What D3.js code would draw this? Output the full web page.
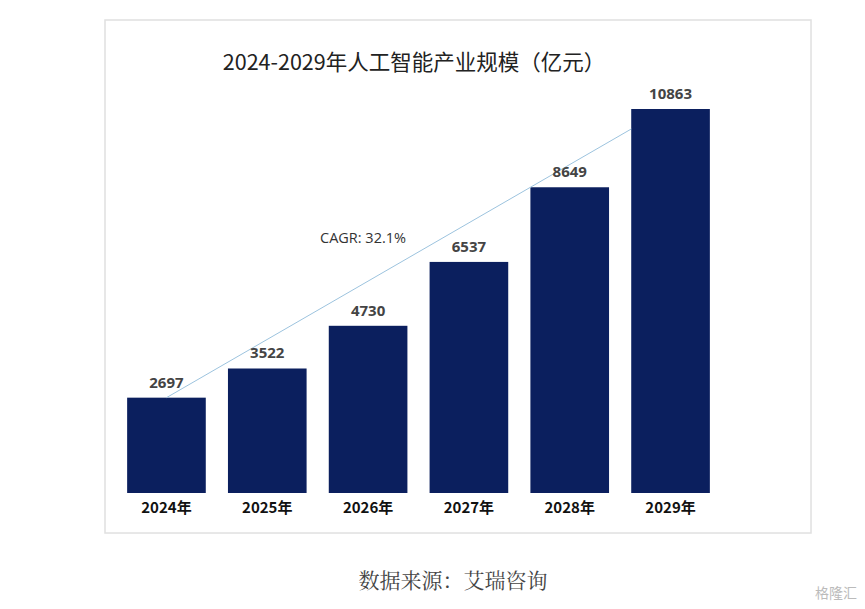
<!DOCTYPE html>
<html><head><meta charset="utf-8">
<script src="https://cdn.jsdelivr.net/npm/d3@7"></script>
<style>body{margin:0;background:#fff}</style>
</head><body><svg id="chart" width="865" height="609"></svg>
<script>
const years = ["2024年", "2025年", "2026年", "2027年", "2028年", "2029年"];
const values = [2697, 3522, 4730, 6537, 8649, 10863];
const cagrLabel = "CAGR: 32.1%";

const svg = d3.select("#chart");
const baseline = 493;

// Frame
svg.append("rect").attr("x", 105).attr("y", 20).attr("width", 706).attr("height", 513)
  .attr("fill", "#fff").attr("stroke", "#e0e0e0").attr("stroke-width", 1.5);

svg.append("text").attr("x", 414).attr("y", 70).attr("text-anchor", "middle")
  .style("font-family", "'Noto Sans CJK SC'").style("font-size", "21.5px").attr("fill", "#222")
  .text("2024-2029年人工智能产业规模（亿元）");

const x = d3.scaleBand().domain(years).range([110, 727]).paddingInner(0.22).paddingOuter(0.17);
const y = d3.scaleLinear().domain([0, 10863]).range([baseline, 109]);

svg.selectAll(".bar").data(values).enter().append("rect")
  .attr("x", (d, i) => x(years[i])).attr("y", d => y(d))
  .attr("width", x.bandwidth()).attr("height", d => baseline - y(d))
  .attr("fill", "#0b1f5e");

// CAGR line
const first = years[0], last = years[years.length - 1];
svg.append("line")
  .attr("x1", x(first) + x.bandwidth() / 2).attr("y1", y(values[0]))
  .attr("x2", x(last)).attr("y2", y(values[5]) + 20)
  .attr("stroke", "#9cc3de").attr("stroke-width", 1);

svg.append("text").attr("x", 320).attr("y", 243)
  .style("font-family", "'Open Sans'").style("font-size", "14.5px").attr("fill", "#333")
  .text(cagrLabel);

svg.selectAll(".val").data(values).enter().append("text")
  .attr("x", (d, i) => x(years[i]) + x.bandwidth() / 2).attr("y", d => y(d) - 10)
  .attr("text-anchor", "middle")
  .style("font-family", "'Open Sans'").style("font-weight", "bold").style("font-size", "15px")
  .attr("fill", "#444").text(d => d);

const xAxis = svg.append("g").attr("transform", `translate(0,${baseline})`)
  .call(d3.axisBottom(x).tickSize(0).tickPadding(9));
xAxis.select(".domain").remove();
xAxis.selectAll("text").style("font-family", "'Noto Sans CJK SC'").style("font-weight", "bold")
  .style("font-size", "15px").attr("fill", "#111");

svg.append("text").attr("x", 453).attr("y", 588).attr("text-anchor", "middle")
  .style("font-family", "'Noto Serif CJK SC', 'Noto Sans CJK SC'").style("font-size", "21px").attr("fill", "#444")
  .text("数据来源：艾瑞咨询");

svg.append("text").attr("x", 857).attr("y", 598).attr("text-anchor", "end")
  .style("font-family", "'Noto Sans CJK SC'").style("font-size", "14px").attr("fill", "#bbb")
  .text("格隆汇");
</script></body></html>
